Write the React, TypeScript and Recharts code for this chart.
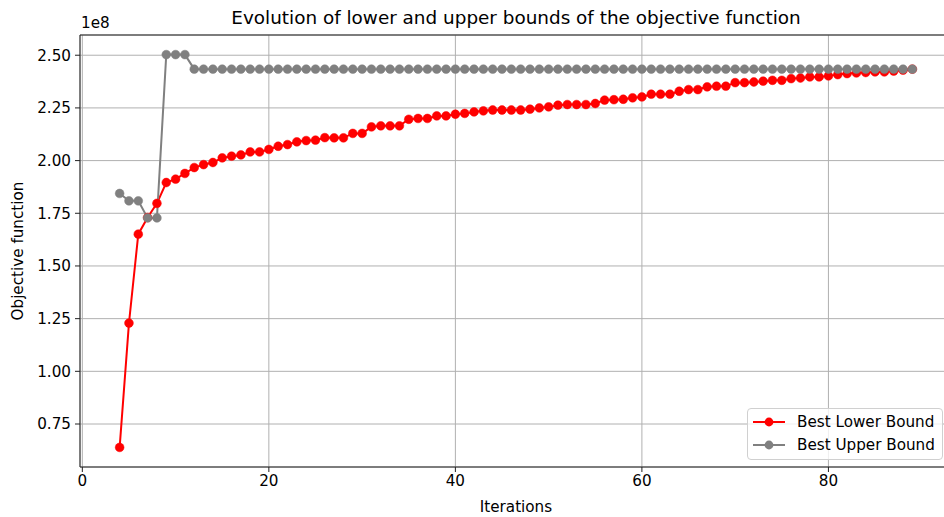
import React from 'react';
import {
  LineChart, Line, XAxis, YAxis, CartesianGrid, ReferenceLine,
} from 'recharts';

// values are in units of 1e8
const iterations = [
  4, 5, 6, 7, 8, 9, 10, 11, 12, 13, 14, 15, 16, 17, 18, 19, 20, 21, 22, 23,
  24, 25, 26, 27, 28, 29, 30, 31, 32, 33, 34, 35, 36, 37, 38, 39, 40, 41, 42, 43,
  44, 45, 46, 47, 48, 49, 50, 51, 52, 53, 54, 55, 56, 57, 58, 59, 60, 61, 62, 63,
  64, 65, 66, 67, 68, 69, 70, 71, 72, 73, 74, 75, 76, 77, 78, 79, 80, 81, 82, 83,
  84, 85, 86, 87, 88, 89,
];

const lowerBound = [
  0.639, 1.229, 1.651, 1.730, 1.797, 1.896, 1.912, 1.939, 1.967, 1.981, 1.991, 2.013, 2.021, 2.027, 2.041, 2.041, 2.053, 2.068, 2.076, 2.089,
  2.095, 2.097, 2.109, 2.108, 2.108, 2.129, 2.129, 2.160, 2.165, 2.165, 2.165, 2.196, 2.200, 2.200, 2.212, 2.212, 2.220, 2.224, 2.231, 2.236,
  2.240, 2.240, 2.240, 2.240, 2.244, 2.250, 2.255, 2.263, 2.266, 2.266, 2.266, 2.271, 2.287, 2.289, 2.291, 2.298, 2.302, 2.315, 2.315, 2.315,
  2.329, 2.337, 2.337, 2.350, 2.353, 2.353, 2.370, 2.370, 2.373, 2.377, 2.381, 2.381, 2.389, 2.392, 2.397, 2.397, 2.402, 2.408, 2.413, 2.416,
  2.418, 2.421, 2.421, 2.425, 2.429, 2.434,
];

const upperBound = [
  1.844, 1.809, 1.809, 1.728, 1.728, 2.503, 2.503, 2.503, 2.434, 2.434, 2.434, 2.434, 2.434, 2.434, 2.434, 2.434, 2.434, 2.434, 2.434, 2.434,
  2.434, 2.434, 2.434, 2.434, 2.434, 2.434, 2.434, 2.434, 2.434, 2.434, 2.434, 2.434, 2.434, 2.434, 2.434, 2.434, 2.434, 2.434, 2.434, 2.434,
  2.434, 2.434, 2.434, 2.434, 2.434, 2.434, 2.434, 2.434, 2.434, 2.434, 2.434, 2.434, 2.434, 2.434, 2.434, 2.434, 2.434, 2.434, 2.434, 2.434,
  2.434, 2.434, 2.434, 2.434, 2.434, 2.434, 2.434, 2.434, 2.434, 2.434, 2.434, 2.434, 2.434, 2.434, 2.434, 2.434, 2.434, 2.434, 2.434, 2.434,
  2.434, 2.434, 2.434, 2.434, 2.434, 2.434,
];

const xTicks = [0, 20, 40, 60, 80];
const yTicks = [0.75, 1.0, 1.25, 1.5, 1.75, 2.0, 2.25, 2.5];

const series = [
  { key: 'lower', name: 'Best Lower Bound', color: '#ff0000' },
  { key: 'upper', name: 'Best Upper Bound', color: '#808080' },
];

const X_DOMAIN: [number, number] = [-0.25, 93.25];
const Y_DOMAIN: [number, number] = [0.546, 2.596];

const FONT = '"DejaVu Sans", sans-serif';

const data = iterations.map((it, i) => ({
  iteration: it,
  lower: lowerBound[i],
  upper: upperBound[i],
}));

const tickStyle = { fill: '#000', fontSize: 15.2, fontFamily: FONT };

export default function App() {
  return (
    <div
      style={{
        position: 'absolute', top: 0, left: 0, width: 944, height: 517,
        overflow: 'hidden', background: '#fff', fontFamily: FONT, color: '#000',
      }}
    >
      <LineChart
        width={960}
        height={517}
        data={data}
        margin={{ top: 35, right: 8, bottom: 0, left: 0 }}
      >
        <CartesianGrid stroke="#b0b0b0" strokeWidth={1} fill="none" />
        <XAxis
          dataKey="iteration"
          type="number"
          domain={X_DOMAIN}
          ticks={xTicks}
          allowDataOverflow
          height={50}
          tick={tickStyle}
          tickSize={5}
          tickMargin={3}
          stroke="#222"
          tickLine={{ stroke: '#222' }}
        />
        <YAxis
          type="number"
          domain={Y_DOMAIN}
          ticks={yTicks}
          allowDataOverflow
          width={80}
          tick={tickStyle}
          tickSize={5}
          tickMargin={4}
          tickFormatter={(v: number) => v.toFixed(2)}
          stroke="#222"
          tickLine={{ stroke: '#222' }}
        />
        <ReferenceLine y={Y_DOMAIN[1]} stroke="#222" strokeWidth={1} />
        {series.map((s) => (
          <Line
            key={s.key}
            dataKey={s.key}
            name={s.name}
            stroke={s.color}
            strokeWidth={2}
            dot={{ r: 4.4, fill: s.color, stroke: s.color, strokeWidth: 0.5 }}
            activeDot={false}
            isAnimationActive={false}
          />
        ))}
      </LineChart>

      <div style={{ position: 'absolute', left: 0, width: 1032, top: 7, textAlign: 'center', fontSize: 18.4, whiteSpace: 'nowrap' }}>
        Evolution of lower and upper bounds of the objective function
      </div>
      <div style={{ position: 'absolute', left: 81, top: 14, fontSize: 15.2 }}>1e8</div>
      <div
        style={{
          position: 'absolute', left: 18, top: 251, fontSize: 15.2, whiteSpace: 'nowrap',
          transform: 'translate(-50%, -50%) rotate(-90deg)',
        }}
      >
        Objective function
      </div>
      <div style={{ position: 'absolute', left: 0, width: 1032, top: 498, textAlign: 'center', fontSize: 15.2 }}>
        Iterations
      </div>

      <div
        style={{
          position: 'absolute', left: 747, top: 408, width: 196, height: 52,
          background: 'rgba(255,255,255,0.8)', border: '1px solid #d0d0d0', borderRadius: 4,
          boxSizing: 'border-box',
        }}
      >
        {series.map((s, i) => (
          <div key={s.key} style={{ position: 'absolute', left: 4, top: 4 + i * 23, height: 18, display: 'flex', alignItems: 'center' }}>
            <svg width={34} height={18}>
              <line x1={1} y1={9} x2={33} y2={9} stroke={s.color} strokeWidth={2} />
              <circle cx={17} cy={9} r={4.4} fill={s.color} />
            </svg>
            <span style={{ marginLeft: 11, fontSize: 15.2, whiteSpace: 'nowrap' }}>{s.name}</span>
          </div>
        ))}
      </div>
    </div>
  );
}
